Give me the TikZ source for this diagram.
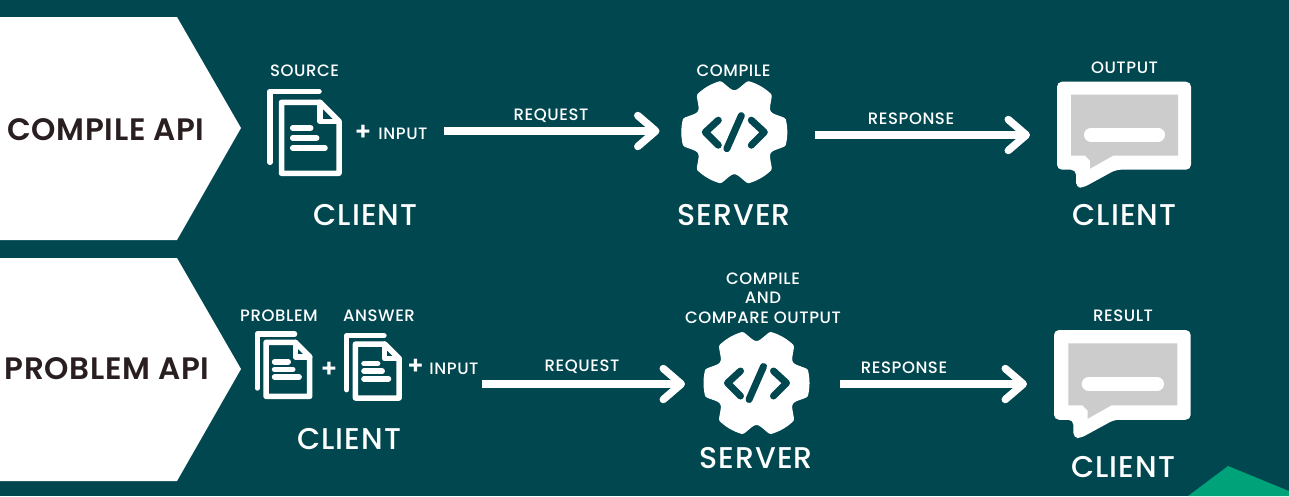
\documentclass[tikz,border=0pt]{standalone}
\usepackage{fontspec}
\setmainfont{Poppins}
\newfontfamily\medf{Poppins Medium}
\newfontfamily\semif{Poppins SemiBold}
\usetikzlibrary{arrows.meta}
\definecolor{bgc}{HTML}{004750}
\definecolor{darkt}{HTML}{2A1F20}
\definecolor{greyc}{HTML}{CCCCCC}
\definecolor{greenc}{HTML}{00A27A}
\tikzset{
  x=1pt,y=-1pt,
  lab/.style={text=white,font=\medf\fontsize{16.5}{19.7}\selectfont\addfontfeatures{LetterSpace=3.5},inner sep=0pt,align=center},
  big/.style={text=white,font=\medf\fontsize{30}{32}\selectfont\addfontfeatures{LetterSpace=3.5},inner sep=0pt},
  apilab/.style={text=darkt,font=\semif\fontsize{31}{32}\selectfont\addfontfeatures{LetterSpace=2},inner sep=0pt},
  arr/.style={draw=white,line width=8pt,-{Straight Barb[length=18pt,width=31pt,round,line width=7.5pt]}},
  banner/.style={fill=white},
  plus/.style={text=white,font=\semif\fontsize{25}{25}\selectfont,inner sep=0pt},
  pics/doc/.style={code={
    \draw[white,line width=5.5pt,line cap=round,line join=round] (49,0)--(0,0)--(0,71);
    \draw[white,line width=5.5pt,line cap=round,line join=round] (11.5,11)--(50,11)--(69,30)--(69,82)--(11.5,82)--cycle;
    \draw[white,line width=5.5pt,line cap=round,line join=round] (50,11)--(50,30)--(69,30);
    \draw[white,line width=5.5pt,line cap=round] (22.7,36.7)--(40.7,36.7) (22.7,46.7)--(46.7,46.7) (22.7,56.7)--(55,56.7);
  }},
  pics/gear/.style={code={
    \filldraw[white,line width=1pt,line join=round] plot[domain=0:360,samples=181] (\x:{41.5+11*min(1,1+cos(6*\x))}) -- cycle;
    \draw[bgc,line width=7pt,line cap=round,line join=round] (-16,-12)--(-29,0)--(-16,13) (17,-12)--(30,0)--(17,13) (7,-16.5)--(-7.5,16.5);
  }},
  pics/bubble/.style={code={
    \fill[white,rounded corners=5pt] (0,0)--(134,0)--(134,88)--(59,88)--(26,106)--(19,106)--(19,88)--(0,88)--cycle;
    \fill[greyc] (14,13)--(121,13)--(121,74)--(56,74)--(33,87)--(33,79)--(28,74)--(14,74)--cycle;
    \draw[white,line width=14pt,line cap=round] (34,53)--(101,53);
  }},
}
\begin{document}
\begin{tikzpicture}
\useasboundingbox (0,0) rectangle (1289,496);
\fill[bgc] (0,0) rectangle (1289,496);
\fill[greenc] (1188,496)--(1228,466)--(1289,491)--(1289,496)--cycle;
\fill[banner] (0,17)--(177,17)--(241,128)--(177,240)--(0,240)--cycle;
\fill[banner] (0,258)--(177,258)--(241,369)--(177,481)--(0,481)--cycle;
\node[apilab] (api1) at (106,129.5) {COMPILE API};
\node[apilab] (api2) at (107,368.5) {PROBLEM API};

% top row
\pic at (270,91.3) {doc};
\node[lab] (src) at (304.5,70.5) {SOURCE};
\node[plus] (p1) at (363,133) {+};
\node[lab] (in1) at (403,133.5) {INPUT};
\node[big] (c1) at (365.5,215) {CLIENT};
\coordinate (a1s) at (444,131);
\coordinate (a1e) at (659.5,131);
\draw[arr] (a1s) -- (a1e);
\node[lab] (req1) at (551,115.5) {REQUEST};
\pic at (734.3,132.2) {gear};
\node[lab] (cmp1) at (733.5,70.5) {COMPILE};
\node[big] (s1) at (734,215) {SERVER};
\coordinate (a2s) at (815,135);
\coordinate (a2e) at (1030,135);
\draw[arr] (a2s) -- (a2e);
\node[lab] (res1) at (911,118.5) {RESPONSE};
\pic at (1057,81.7) {bubble};
\node[lab] (out1) at (1124.5,67.5) {OUTPUT};
\node[big] (c2) at (1124.5,215) {CLIENT};

% bottom row
\pic[scale=.76] at (257.3,334) {doc};
\pic[scale=.76] at (346.7,335.7) {doc};
\node[lab] (prob) at (279,315.5) {PROBLEM};
\node[lab] (ans) at (379,315.5) {ANSWER};
\node[plus] (p2) at (329,370) {+};
\node[plus] (p3) at (415.5,367) {+};
\node[lab] (in2) at (454,368.5) {INPUT};
\node[big] (c3) at (349,439) {CLIENT};
\coordinate (b1s) at (482,384);
\coordinate (b1e) at (685,384);
\draw[arr] (b1s) -- (b1e);
\node[lab] (req2) at (582,366.5) {REQUEST};
\pic at (756.5,383) {gear};
\node[lab] (cmp2) at (763,298) {COMPILE\\AND\\COMPARE OUTPUT};
\node[big] (s2) at (756,458) {SERVER};
\coordinate (b2s) at (840,384);
\coordinate (b2e) at (1027,384);
\draw[arr] (b2s) -- (b2e);
\node[lab] (res2) at (904,368) {RESPONSE};
\pic[scale=1.02] at (1054,330) {bubble};
\node[lab] (out2) at (1123,315.5) {RESULT};
\node[big] (c4) at (1123,467) {CLIENT};
\end{tikzpicture}
\end{document}
